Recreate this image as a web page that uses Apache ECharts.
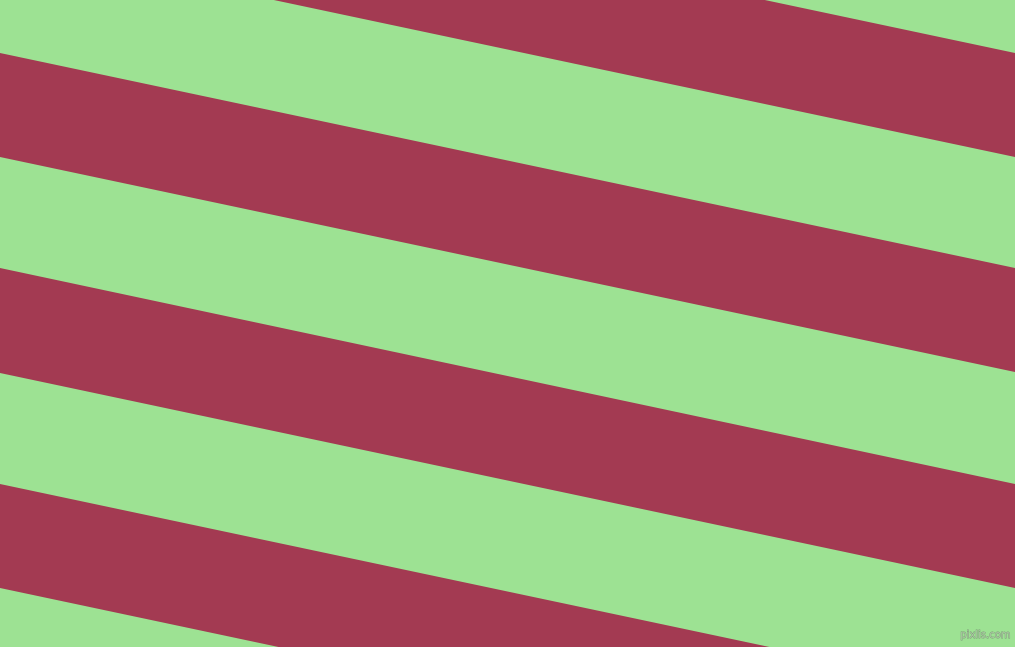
<!DOCTYPE html>
<html>
<head>
<meta charset="utf-8">
<script src="https://cdn.jsdelivr.net/npm/echarts@6/dist/echarts.min.js"></script>
<style>
html,body{margin:0;padding:0;width:1015px;height:647px;overflow:hidden;background:#9de293;}
#chart{width:1015px;height:647px;}
</style>
</head>
<body>
<div id="chart"></div>
<script>
// Red stripes: y-intercepts of the upper and lower edges at the left (x=0) and right (x=1015) borders
const redTopLeft = [-162, 53, 268, 484];
const redBottomLeft = [-58, 157, 373, 588];
const redTopRight = [53, 268, 484, 699];
const redBottomRight = [157, 372, 588, 803];
const xExtent = [0, 1015];
const yExtent = [0, 647];
const greenColor = '#9de293';
const redColor = '#a33a52';
const watermark = 'pixlis.com';

const data = redTopLeft.map((v, i) => [v, redBottomLeft[i], redTopRight[i], redBottomRight[i]]);

const chart = echarts.init(document.getElementById('chart'), null, {renderer: 'canvas'});
chart.setOption({
  backgroundColor: greenColor,
  animation: false,
  grid: {left: 0, right: 0, top: 0, bottom: 0},
  xAxis: {type: 'value', min: xExtent[0], max: xExtent[1], show: false},
  yAxis: {type: 'value', min: yExtent[0], max: yExtent[1], inverse: true, show: false},
  series: [{
    type: 'custom',
    clip: true,
    data: data,
    renderItem: function (params, api) {
      const lt = api.value(0), lb = api.value(1), rt = api.value(2), rb = api.value(3);
      const pts = [
        api.coord([xExtent[0], lt]),
        api.coord([xExtent[1], rt]),
        api.coord([xExtent[1], rb]),
        api.coord([xExtent[0], lb])
      ];
      return {
        type: 'polygon',
        shape: {points: pts},
        style: {fill: redColor, stroke: null}
      };
    }
  }],
  graphic: [{
    type: 'text',
    right: 4,
    bottom: 6,
    style: {
      text: watermark,
      fill: '#a8c8a0',
      stroke: '#7f9a7a',
      lineWidth: 0.8,
      font: '10px "DejaVu Sans"'
    }
  }]
});
</script>
</body>
</html>
